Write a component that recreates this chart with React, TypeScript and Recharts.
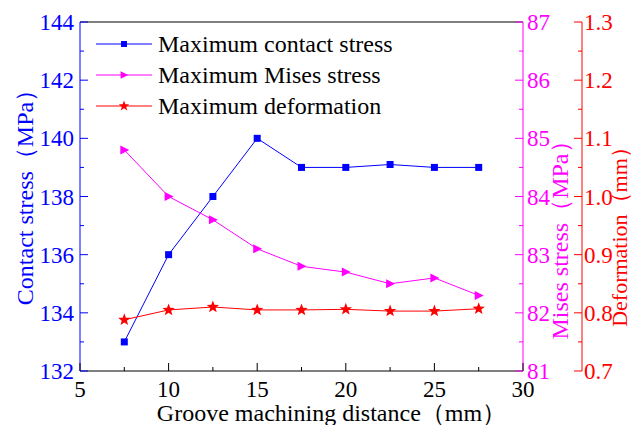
import React from 'react';
import { LineChart, Line, XAxis, YAxis, ReferenceLine, Label } from 'recharts';

// groove machining distance (mm)
const distances = [7.5, 10, 12.5, 15, 17.5, 20, 22.5, 25, 27.5];
// series values
const contactStress = [133, 136, 138, 140, 139, 139, 139.1, 139, 139];
const misesStress = [84.8, 84.0, 83.6, 83.1, 82.8, 82.7, 82.5, 82.6, 82.3];
const deformation = [0.788, 0.805, 0.81, 0.805, 0.805, 0.806, 0.803, 0.803, 0.807];

// ticks (majors get labels, the rest are minor marks)
const xTicks = [5, 7.5, 10, 12.5, 15, 17.5, 20, 22.5, 25, 27.5, 30];
const xMajor = [5, 10, 15, 20, 25, 30];
const contactTicks = [132, 133, 134, 135, 136, 137, 138, 139, 140, 141, 142, 143, 144];
const contactMajor = [132, 134, 136, 138, 140, 142, 144];
const misesTicks = [81, 81.5, 82, 82.5, 83, 83.5, 84, 84.5, 85, 85.5, 86, 86.5, 87];
const misesMajor = [81, 82, 83, 84, 85, 86, 87];
const deformTicks = [0.7, 0.75, 0.8, 0.85, 0.9, 0.95, 1.0, 1.05, 1.1, 1.15, 1.2, 1.25, 1.3];
const deformMajor = [0.7, 0.8, 0.9, 1.0, 1.1, 1.2, 1.3];

const BLUE = '#0000ff';
const MAGENTA = '#ff00ff';
const RED = '#ff0000';
const FONT = '"Liberation Serif", "Times New Roman", serif';

const data = distances.map((x, i) => ({
  x,
  contact: contactStress[i],
  mises: misesStress[i],
  deform: deformation[i],
}));

type Shape = 'square' | 'triangle' | 'star';

const Marker = ({ cx, cy, shape, color, s = 1 }: { cx: number; cy: number; shape: Shape; color: string; s?: number }) => {
  if (shape === 'square') {
    const h = 3.5 * s;
    return <rect x={cx - h} y={cy - h} width={2 * h} height={2 * h} fill={color} />;
  }
  if (shape === 'triangle') {
    const pts = `${cx - 4 * s},${cy - 4.5 * s} ${cx + 5 * s},${cy} ${cx - 4 * s},${cy + 4.5 * s}`;
    return <polygon points={pts} fill={color} />;
  }
  const pts: string[] = [];
  for (let k = 0; k < 10; k++) {
    const r = (k % 2 === 0 ? 6.5 : 2.7) * s;
    const a = -Math.PI / 2 + (k * Math.PI) / 5;
    pts.push(`${cx + r * Math.cos(a)},${cy + r * Math.sin(a)}`);
  }
  return <polygon points={pts.join(' ')} fill={color} />;
};

// y1 = left axis, y2 = inner right axis, y3 = outer right axis
const series = [
  { key: 'contact', axis: 'y1', name: 'Maximum contact stress', color: BLUE, shape: 'square' as Shape },
  { key: 'mises', axis: 'y2', name: 'Maximum Mises stress', color: MAGENTA, shape: 'triangle' as Shape },
  { key: 'deform', axis: 'y3', name: 'Maximum deformation', color: RED, shape: 'star' as Shape },
];

const makeTick = (
  side: 'left' | 'right' | 'bottom',
  margin: number,
  color: string,
  major: number[],
  fmt: (v: number) => string
) => (props: any) => {
  const { x, y, payload, index } = props;
  const v = payload.value as number;
  const isMajor = major.some((m) => Math.abs(m - v) < 1e-6);
  const len = isMajor ? 8 : 4;
  if (side === 'bottom') {
    const ay = y - margin;
    return (
      <g key={`t${index}`}>
        <line x1={x} x2={x} y1={ay} y2={ay - len} stroke="#000" />
        {isMajor && (
          <text x={x} y={y} dy="0.71em" textAnchor="middle" fill="#000" fontSize={23} fontFamily={FONT}>
            {fmt(v)}
          </text>
        )}
      </g>
    );
  }
  const ax = side === 'left' ? x + margin : x - margin;
  const dir = side === 'left' ? 1 : -1;
  return (
    <g key={`t${index}`}>
      <line x1={ax} x2={ax + dir * len} y1={y} y2={y} stroke={color} />
      {isMajor && (
        <text
          x={x}
          y={y}
          dy="0.35em"
          textAnchor={side === 'left' ? 'end' : 'start'}
          fill={color}
          fontSize={23}
          fontFamily={FONT}
        >
          {fmt(v)}
        </text>
      )}
    </g>
  );
};

const vTitle = (text: string, color: string, dx: number, dy: number, size = 24) => (props: any) => {
  const vb = props.viewBox;
  const bx = vb.x + dx;
  const cy = vb.y + vb.height / 2 + dy;
  return (
    <text
      transform={`translate(${bx},${cy}) rotate(-90)`}
      textAnchor="middle"
      fill={color}
      fontSize={size}
      fontFamily={FONT}
    >
      {text}
    </text>
  );
};

const xTitle = (props: any) => {
  const vb = props.viewBox;
  return (
    <text x={vb.x + vb.width / 2 + 30} y={vb.y + 50} textAnchor="middle" fill="#000" fontSize={24} fontFamily={FONT}>
      Groove machining distance（mm）
    </text>
  );
};

const LegendBox = () => (
  <svg width={632} height={425} style={{ position: 'absolute', left: 0, top: 0, pointerEvents: 'none' }}>
    {series.map((s, i) => {
      const y = 44 + i * 31;
      return (
        <g key={s.key}>
          <line x1={96} x2={152} y1={y} y2={y} stroke={s.color} />
          <Marker cx={124} cy={y} shape={s.shape} color={s.color} s={0.85} />
          <text x={158} y={y + 8} fill="#000" fontSize={24} fontFamily={FONT}>
            {s.name}
          </text>
        </g>
      );
    })}
  </svg>
);

const App = () => {
  return (
    <div style={{ position: 'absolute', left: 0, top: 0, width: 632, height: 425, background: '#fff' }}>
      <LineChart width={632} height={425} data={data} margin={{ top: 22, right: 0, bottom: 0, left: 0 }}>
        <XAxis
          dataKey="x"
          type="number"
          domain={[5, 30]}
          ticks={xTicks}
          interval={0}
          height={54}
          stroke="#000"
          tickLine={false}
          tickSize={0}
          tickMargin={10}
          tick={makeTick('bottom', 10, '#000', xMajor, (v) => String(v))}
        >
          <Label content={xTitle} />
        </XAxis>
        <YAxis
          yAxisId="y1"
          orientation="left"
          domain={[132, 144]}
          ticks={contactTicks}
          interval={0}
          width={80}
          stroke={BLUE}
          tickLine={false}
          tickSize={0}
          tickMargin={6}
          tick={makeTick('left', 6, BLUE, contactMajor, (v) => String(v))}
        >
          <Label content={vTitle('Contact stress（MPa）', BLUE, 33, -5)} />
        </YAxis>
        <YAxis
          yAxisId="y2"
          orientation="right"
          domain={[81, 87]}
          ticks={misesTicks}
          interval={0}
          width={59}
          stroke={MAGENTA}
          tickLine={false}
          tickSize={0}
          tickMargin={4}
          tick={makeTick('right', 4, MAGENTA, misesMajor, (v) => String(v))}
        >
          <Label content={vTitle('Mises stress（MPa）', MAGENTA, 45, 38)} />
        </YAxis>
        <YAxis
          yAxisId="y3"
          orientation="right"
          domain={[0.7, 1.3]}
          ticks={deformTicks}
          interval={0}
          width={50}
          stroke={RED}
          tickLine={false}
          tickSize={0}
          tickMargin={2}
          tick={makeTick('right', 2, RED, deformMajor, (v) => v.toFixed(1))}
        >
          <Label content={vTitle('Deformation（mm）', RED, 45, 35, 22)} />
        </YAxis>
        <ReferenceLine yAxisId="y1" y={144} stroke="#000" />
        {series.map((s) => (
          <Line
            key={s.key}
            yAxisId={s.axis}
            dataKey={s.key}
            stroke={s.color}
            strokeWidth={1}
            isAnimationActive={false}
            dot={(p: any) =>
              p.cx == null ? <g key={`d${p.index}`} /> : (
                <Marker key={`d${p.index}`} cx={p.cx} cy={p.cy} shape={s.shape} color={s.color} />
              )
            }
            activeDot={false}
          />
        ))}
      </LineChart>
      <LegendBox />
    </div>
  );
};

export default App;
